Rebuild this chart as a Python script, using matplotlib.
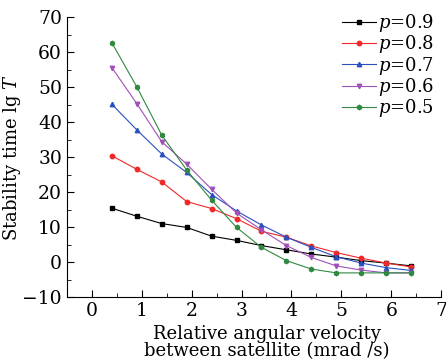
import matplotlib
matplotlib.use('Agg')
import matplotlib.pyplot as plt
import numpy as np
from matplotlib.ticker import MultipleLocator

plt.rcParams['font.family'] = 'DejaVu Serif'
plt.rcParams['mathtext.fontset'] = 'dejavuserif'

# relative angular velocity (mrad/s)
velocity = [0.4, 0.9, 1.4, 1.9, 2.4, 2.9, 3.4, 3.9, 4.4, 4.9, 5.4, 5.9, 6.4]

# stability time lg T for each p
p09 = [15.5, 13.2, 11.1, 10.0, 7.5, 6.3, 4.8, 3.6, 2.4, 1.5, 0.5, -0.2, -1.0]
p08 = [30.5, 26.6, 23.0, 17.4, 15.4, 12.5, 8.9, 7.2, 4.7, 2.8, 1.2, -0.2, -1.3]
p07 = [45.2, 37.9, 31.0, 25.7, 19.4, 14.7, 10.7, 7.2, 4.3, 1.6, -0.2, -1.5, -2.3]
p06 = [55.7, 45.4, 34.5, 28.1, 20.9, 14.1, 9.3, 4.8, 1.4, -1.0, -2.2, -3.0, -3.0]
p05 = [62.8, 50.2, 36.4, 26.4, 17.8, 10.0, 4.3, 0.5, -1.9, -3.0, -3.0, -3.0, -3.0]

labels = ['0.9', '0.8', '0.7', '0.6', '0.5']
series = [p09, p08, p07, p06, p05]
colors = ['#000000', '#f02828', '#2a50c0', '#a050b8', '#2f8a40']
markers = ['s', 'o', '^', 'v', 'h']

fig = plt.figure(figsize=(4.46, 3.64), dpi=100)
ax = fig.add_axes([0.15, 0.183, 0.839, 0.769])

for ys, lab, c, m in zip(series, labels, colors, markers):
    ax.plot(velocity, ys, color=c, marker=m, markersize=3.2, linewidth=0.8,
            label='$p$=' + lab)

ax.set_xlim(-0.5, 7)
ax.set_ylim(-10, 70)
ax.xaxis.set_major_locator(MultipleLocator(1))
ax.xaxis.set_minor_locator(MultipleLocator(0.5))
ax.yaxis.set_major_locator(MultipleLocator(10))
ax.yaxis.set_minor_locator(MultipleLocator(5))
ax.tick_params(which='both', direction='in', labelsize=13.5)
ax.tick_params(which='major', length=5)
ax.tick_params(which='minor', length=3)
ax.spines['top'].set_visible(False)
ax.spines['right'].set_visible(False)

ax.set_xlabel('Relative angular velocity\nbetween satellite (mrad /s)',
              fontsize=13, linespacing=0.95)
ax.xaxis.set_label_coords(0.535, -0.097, transform=ax.transAxes)
ax.xaxis.label.set_va('top')
ax.set_ylabel('Stability time lg $T$', fontsize=13)
ax.yaxis.set_label_coords(-0.117, 0.5, transform=ax.transAxes)

ax.legend(loc='upper right', frameon=False, fontsize=13, handlelength=1.9,
          handletextpad=0.1, labelspacing=-0.04, borderaxespad=0.0,
          bbox_to_anchor=(1.0, 1.045))

fig.savefig('out.png', dpi=100)
